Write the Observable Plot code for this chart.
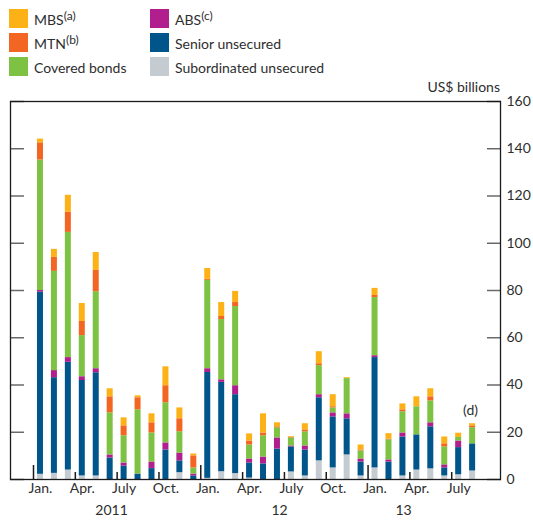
<!DOCTYPE html>
<html>
<head>
<meta charset="utf-8">
<script src="https://cdn.jsdelivr.net/npm/d3@7"></script>
<script src="https://cdn.jsdelivr.net/npm/@observablehq/plot@0.6"></script>
<style>
  html, body { margin: 0; padding: 0; background: #fff; }
  #wrap { position: relative; width: 533px; height: 521px; font-family: Lato, "Open Sans", sans-serif; color: #2e2e2e; }
  .sw { position: absolute; width: 19px; height: 19px; }
  .lt { position: absolute; font-size: 14px; line-height: 19px; white-space: nowrap; }
  .lt sup { font-size: 12px; vertical-align: 0; position: relative; top: -5px; }
  #unit { position: absolute; right: 33px; top: 80px; font-size: 14px; line-height: 14px; }
  #chart { position: absolute; left: 0; top: 80px; }
</style>
</head>
<body>
<div id="wrap">
  <div id="legend"></div>
  <div id="unit">US$ billions</div>
  <div id="chart"></div>
</div>
<script>
// Series, bottom of stack to top, Jan 2011 – Aug 2013 (US$ billions)
const subordinated = [2.2, 2.6, 4.0, 1.5, 1.5, 0, 0, 0, 0, 0, 2.9, 0,
                      0.5, 3.3, 2.5, 0.6, 0, 0, 3.2, 1.5, 7.9, 4.9, 10.4, 1.5,
                      4.9, 0, 1.5, 4.0, 4.5, 1.5, 2.0, 3.6];
const senior = [77.1, 40.5, 45.6, 40.4, 43.7, 9.1, 5.7, 2.3, 4.6, 12.5, 5.0, 1.5,
                44.8, 37.8, 33.4, 6.4, 6.6, 12.9, 10.6, 11.0, 26.7, 21.6, 15.3, 5.9,
                46.7, 7.4, 16.5, 14.9, 17.8, 3.4, 11.5, 11.5];
const abs = [0.7, 3.0, 2.0, 1.6, 1.7, 1.3, 1.3, 0, 2.8, 3.0, 3.3, 0.8,
             1.6, 1.1, 3.8, 1.7, 2.9, 4.7, 0.4, 1.7, 1.3, 1.7, 2.1, 1.3,
             0.8, 0.9, 1.7, 0, 1.7, 1.3, 2.8, 0];
const covered = [55.2, 42.0, 53.0, 17.4, 32.6, 17.8, 11.5, 27.2, 12.3, 17.0, 9.0, 2.6,
                 37.4, 25.5, 33.5, 5.9, 9.0, 4.3, 3.4, 6.0, 12.3, 2.1, 14.9, 3.4,
                 24.6, 8.5, 9.0, 11.9, 9.3, 7.6, 1.5, 6.8];
const mtn = [7.3, 5.9, 8.5, 6.0, 9.0, 6.8, 4.2, 5.1, 4.3, 7.2, 5.5, 5.1,
             0.4, 1.3, 1.7, 1.7, 1.2, 0.4, 0.3, 0.8, 0.8, 0.5, 0, 0.4,
             0.9, 0.3, 0.8, 0, 1.7, 1.3, 0, 0.8];
const mbs = [1.6, 3.4, 7.2, 7.6, 7.6, 3.4, 3.4, 0.8, 3.8, 8.0, 4.6, 0.8,
             4.6, 5.9, 4.7, 3.0, 8.1, 1.7, 0.3, 2.6, 5.1, 5.1, 0.4, 2.1,
             3.0, 2.3, 2.5, 4.2, 3.4, 2.9, 1.8, 0.9];

const seriesNames = ["Subordinated unsecured", "Senior unsecured", "ABS", "Covered bonds", "MTN", "MBS"];
const seriesColors = ["#c4cbd1", "#00558b", "#b01f8d", "#7dc242", "#f26522", "#fcb116"];
const seriesValues = [subordinated, senior, abs, covered, mtn, mbs];

const monthTickLabels = ["Jan.", "Apr.", "July", "Oct."];
const monthTickIndex = [0, 3, 6, 9, 12, 15, 18, 21, 24, 27, 30];
const yearLabels = ["2011", "12", "13"];
const yearLabelPos = [5.1, 17.15, 26.05];
const yearBreaks = [-0.5, 11.5, 23.5];
const quarterBreaks = [2.5, 5.5, 8.5, 14.5, 17.5, 20.5, 26.5, 29.5];
const yTicks = [0, 20, 40, 60, 80, 100, 120, 140, 160];
const footnoteText = "(d)";
const footnoteIndex = 31;

// Legend (HTML)
const legendItems = [
  {name: "MBS", sup: "(a)", col: 0, row: 0, color: seriesColors[5]},
  {name: "MTN", sup: "(b)", col: 0, row: 1, color: seriesColors[4]},
  {name: "Covered bonds", sup: "", col: 0, row: 2, color: seriesColors[3]},
  {name: "ABS", sup: "(c)", col: 1, row: 0, color: seriesColors[2]},
  {name: "Senior unsecured", sup: "", col: 1, row: 1, color: seriesColors[1]},
  {name: "Subordinated unsecured", sup: "", col: 1, row: 2, color: seriesColors[0]}
];
const legend = document.getElementById("legend");
for (const it of legendItems) {
  const x = it.col === 0 ? 9 : 150;
  const y = 9 + it.row * 24;
  const sw = document.createElement("div");
  sw.className = "sw";
  sw.style.left = x + "px"; sw.style.top = y + "px"; sw.style.background = it.color;
  legend.appendChild(sw);
  const t = document.createElement("div");
  t.className = "lt";
  t.style.left = (x + 25) + "px"; t.style.top = (y + 1) + "px";
  t.innerHTML = it.name + (it.sup ? "<sup>" + it.sup + "</sup>" : "");
  legend.appendChild(t);
}

const rows = [];
seriesNames.forEach((name, s) => {
  seriesValues[s].forEach((v, i) => rows.push({i, type: name, value: v}));
});
const totals = subordinated.map((_, i) => seriesValues.reduce((a, arr) => a + arr[i], 0));

const chart = Plot.plot({
  width: 533,
  height: 441,
  marginTop: 21,
  marginBottom: 42,
  marginLeft: 10,
  marginRight: 33,
  style: {fontFamily: "Lato, 'Open Sans', sans-serif", fontSize: "14px", color: "#2e2e2e", background: "transparent", overflow: "visible"},
  x: {type: "linear", domain: [-2.15, 33.0]},
  y: {domain: [0, 160]},
  color: {domain: seriesNames, range: seriesColors},
  marks: [
    Plot.rectY(rows, {
      x1: d => d.i - 0.5, x2: d => d.i + 0.5, y: "value",
      fill: "type", order: seriesNames, insetLeft: 3.97, insetRight: 3.97
    }),
    Plot.axisY({anchor: "left", ticks: yTicks, tickSize: -14, fill: "none", stroke: "#6a6a6a", strokeWidth: 1.5, label: null, tickFormat: () => ""}),
    Plot.axisY({anchor: "right", ticks: yTicks, tickSize: -14, fill: "none", stroke: "#6a6a6a", strokeWidth: 1.5, label: null, tickFormat: () => ""}),
    Plot.axisY({anchor: "right", ticks: yTicks, tickSize: 0, tickPadding: 6, label: null, fill: "#2e2e2e"}),
    Plot.axisX({ticks: monthTickIndex, tickSize: 0, tickPadding: 4, label: null, fill: "#2e2e2e",
      tickFormat: d => monthTickLabels[Math.round(d / 3) % 4]}),
    Plot.axisX({ticks: yearLabelPos, tickSize: 0, tickPadding: 26, label: null, fill: "#2e2e2e",
      tickFormat: d => yearLabels[yearLabelPos.indexOf(d)]}),
    Plot.axisX({ticks: yearBreaks, tickSize: -14, fill: "none", stroke: "#1a1a1a", strokeWidth: 1.5, label: null, tickFormat: () => ""}),
    Plot.axisX({ticks: quarterBreaks, tickSize: -7, fill: "none", stroke: "#1a1a1a", strokeWidth: 1.5, label: null, tickFormat: () => ""}),
    Plot.frame({stroke: "#1a1a1a", strokeWidth: 1.3}),
    Plot.text([footnoteIndex], {x: d => d - 0.15, y: d => totals[d], text: () => footnoteText, dy: -13, fill: "#2e2e2e"})
  ]
});
document.getElementById("chart").appendChild(chart);
</script>
</body>
</html>
